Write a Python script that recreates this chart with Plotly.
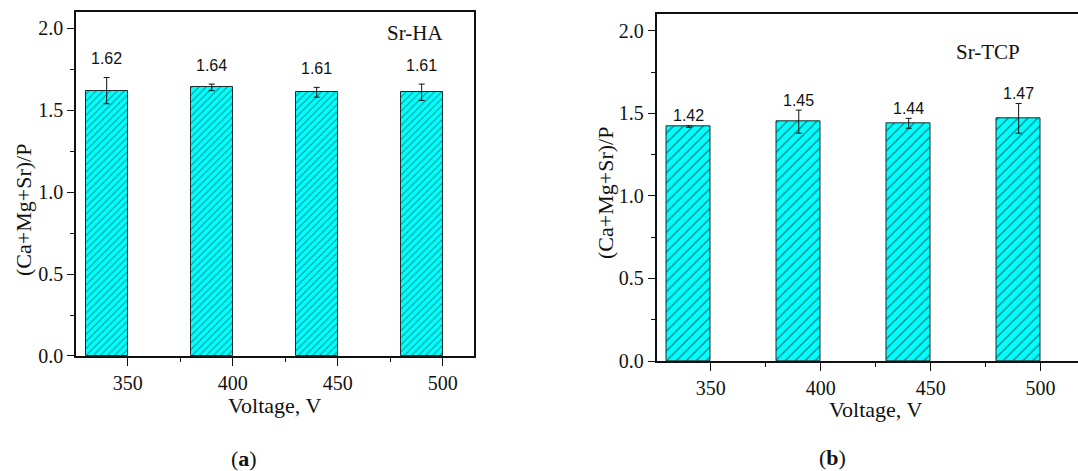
import plotly.graph_objects as go

voltage = [350, 400, 450, 500]
ha_values = [1.62, 1.64, 1.61, 1.61]
ha_errors = [0.08, 0.02, 0.03, 0.05]
tcp_values = [1.42, 1.45, 1.44, 1.47]
tcp_errors = [0.005, 0.07, 0.03, 0.09]
ha_labels = ["1.62", "1.64", "1.61", "1.61"]
tcp_labels = ["1.42", "1.45", "1.44", "1.47"]
x_title = "Voltage, V"
y_title = "(Ca+Mg+Sr)/P"

BAR_W = 20
SERIF = "Liberation Serif, Times New Roman, serif"
SANS = "Liberation Sans, Arial, sans-serif"
CYAN = "#00FFFF"
INK = "#111111"

fig = go.Figure()


def add_bars(values, errors, xa, ya, hatch):
    fig.add_trace(go.Bar(
        x=voltage, y=values, width=BAR_W, offset=-BAR_W,
        xaxis=xa, yaxis=ya,
        marker=dict(color=CYAN, line=dict(color="#1e2a2a", width=1),
                    pattern=dict(shape="/", fgcolor=INK, bgcolor=CYAN,
                                 size=hatch, solidity=0.2)),
        error_y=dict(type="data", array=errors, visible=True,
                     color=INK, thickness=1, width=3),
        showlegend=False,
    ))


add_bars(ha_values, ha_errors, "x", "y", 5)
add_bars(tcp_values, tcp_errors, "x2", "y2", 7)

annotations = []
for v, val, err, lab in zip(voltage, ha_values, ha_errors, ha_labels):
    annotations.append(dict(x=v - BAR_W / 2, y=val + err, xref="x", yref="y",
                            text=lab, showarrow=False, yanchor="middle", yshift=19,
                            font=dict(family=SANS, size=16, color=INK)))
for v, val, err, lab in zip(voltage, tcp_values, tcp_errors, tcp_labels):
    annotations.append(dict(x=v - BAR_W / 2, y=val + err, xref="x2", yref="y2",
                            text=lab, showarrow=False, yanchor="middle", yshift=10,
                            font=dict(family=SANS, size=16, color=INK)))


def paper_text(x, y, text, size, angle=0):
    return dict(x=x, y=y, xref="paper", yref="paper", text=text, showarrow=False,
                xanchor="center", yanchor="middle", textangle=angle,
                font=dict(family=SERIF, size=size, color=INK))


annotations += [
    paper_text(0.385, 0.930, "Sr-HA", 21),
    paper_text(0.9165, 0.8896, "Sr-TCP", 21),
    paper_text(0.2263, 0.0276, "(<b>a</b>)", 22),
    paper_text(0.7727, 0.0297, "(<b>b</b>)", 22),
    paper_text(0.2551, 1 - 405 / 471, x_title, 22),
    paper_text(0.8126, 1 - 409 / 471, x_title, 22),
    paper_text(23 / 1078, 1 - 210 / 471, y_title, 22, -90),
    paper_text(605 / 1078, 1 - 193 / 471, y_title, 22, -90),
]

tickfont = dict(family=SERIF, size=20, color=INK)


def xaxis(domain, rng, anchor):
    return dict(domain=domain, range=rng, anchor=anchor, automargin=False,
                tickmode="array", tickvals=voltage, ticktext=[str(v) for v in voltage],
                ticks="outside", ticklen=8, tickwidth=1.2, tickcolor=INK,
                minor=dict(tickmode="linear", tick0=325, dtick=50, ticks="outside",
                           ticklen=4, tickwidth=1.2, tickcolor=INK),
                showline=True, linecolor=INK, linewidth=1.5, mirror=True,
                showgrid=False, zeroline=False, tickfont=tickfont)


def yaxis(domain, anchor, mirror):
    return dict(domain=domain, range=[0, 2.1], anchor=anchor, automargin=False,
                tickmode="linear", tick0=0, dtick=0.5, tickformat=".1f",
                ticks="outside", ticklen=7, tickwidth=1.2, tickcolor=INK,
                minor=dict(tickmode="linear", tick0=0, dtick=0.25, ticks="outside",
                           ticklen=4, tickwidth=1.2, tickcolor=INK),
                showline=True, linecolor=INK, linewidth=1.5, mirror=mirror,
                showgrid=False, zeroline=False, tickfont=tickfont)


fig.update_layout(
    width=1078, height=471,
    margin=dict(l=0, r=0, t=0, b=0, pad=0),
    paper_bgcolor="white", plot_bgcolor="white",
    font=dict(family=SERIF, color=INK),
    xaxis=xaxis([0.0705, 0.4397], [325.4, 514.9], "y"),
    yaxis=yaxis([0.2442, 0.9745], "x", True),
    xaxis2=xaxis([0.609, 1.0], [325.3, 517.0], "y2"),
    yaxis2=yaxis([0.2335, 0.9696], "x2", False),
    annotations=annotations,
    bargap=0,
)

fig.write_html("out.html")
